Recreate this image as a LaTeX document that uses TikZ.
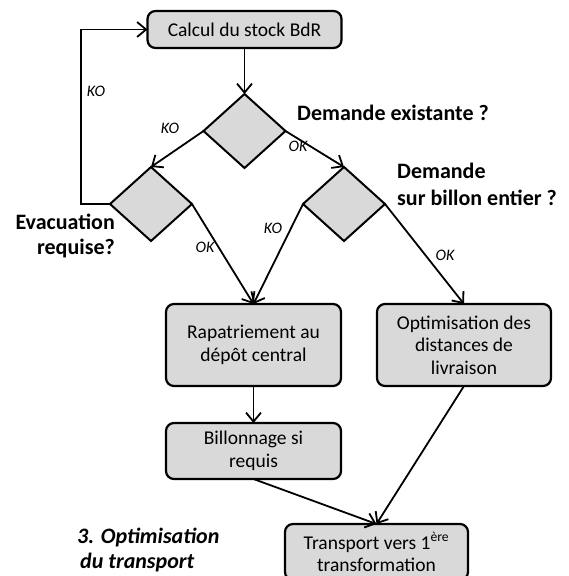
\documentclass[tikz,border=0pt]{standalone}
\usepackage{fontspec}
\setmainfont{Carlito}
\usetikzlibrary{shapes.geometric,arrows.meta}
\definecolor{boxgray}{HTML}{D9D9D9}
\begin{document}
\begin{tikzpicture}[x=1pt,y=-1pt,
  proc/.style={draw=black, line width=2.2pt, fill=boxgray, rounded corners=8pt, align=center,
    font=\fontsize{19.5}{22.5}\selectfont, inner sep=0pt, outer sep=0pt},
  dec/.style={diamond, draw=black, line width=2pt, fill=boxgray, inner sep=0pt, outer sep=0pt,
    minimum width=82pt, minimum height=74pt},
  conn/.style={line width=1.8pt, -{Straight Barb[length=9pt,width=15pt]}},
  lab/.style={font=\fontsize{16}{18}\selectfont\itshape, inner sep=0pt},
  quest/.style={font=\fontsize{22}{25}\selectfont\bfseries, inner sep=0pt},
]
\useasboundingbox (0,0) rectangle (569,576);
\clip (0,0) rectangle (569,576);

% process boxes
\node[proc, minimum width=194pt, minimum height=37pt] (calc) at (244.5,29.5) {Calcul du stock BdR};
\node[proc, minimum width=175pt, minimum height=82pt] (rapa) at (253.5,345) {Rapatriement au\\dépôt central};
\node[proc, minimum width=174pt, minimum height=82pt] (opti) at (464,345) {Optimisation des\\distances de\\livraison};
\node[proc, minimum width=175pt, minimum height=56pt] (bill) at (253.5,451) {Billonnage si\\requis};
\node[proc, minimum width=183pt, minimum height=56pt] (trans) at (376.5,552) {Transport vers 1\textsuperscript{ère}\\transformation};

% decisions
\node[dec] (d1) at (244.5,131) {};
\node[dec] (d2) at (151,204) {};
\node[dec] (d3) at (344,204) {};

% connectors
\coordinate (lp) at (81,204);
\draw[conn] (calc.south) -- (d1.north);
\draw[conn] (d1.west) -- (d2.north);
\draw[conn] (d1.east) -- (d3.north);
\draw[conn] (d2.east) -- (rapa.north);
\draw[conn] (d3.west) -- (rapa.north);
\draw[conn] (d3.east) -- (opti.north);
\draw[conn] (rapa.south) -- (bill.north);
\draw[conn] (bill.south) -- (trans.north);
\draw[conn] (opti.south) -- (trans.north);
\draw[conn] (d2.west) -- (lp) |- (calc.west);

% edge labels
\node[lab] (ko1) at (96,91) {KO};
\node[lab] (ko2) at (170,128) {KO};
\node[lab] (ok1) at (298,146) {OK};
\node[lab] (ok2) at (205,247) {OK};
\node[lab] (ko3) at (273,228) {KO};
\node[lab] (ok3) at (445,255) {OK};

% question labels
\node[quest, anchor=west] (q1) at (297,113) {Demande existante ?};
\node[quest, anchor=west, align=left, font=\fontsize{22}{27}\selectfont\bfseries] (q2) at (397,184) {Demande\\sur billon entier ?};
\node[quest, anchor=east, align=right] (q3) at (115,236) {Evacuation\\requise?};

% title
\node[font=\fontsize{22}{25}\selectfont\bfseries\itshape, align=left, anchor=west, inner sep=0pt] (title) at (77,550) {3. Optimisation\\\hspace*{3pt}du transport};
\end{tikzpicture}
\end{document}
